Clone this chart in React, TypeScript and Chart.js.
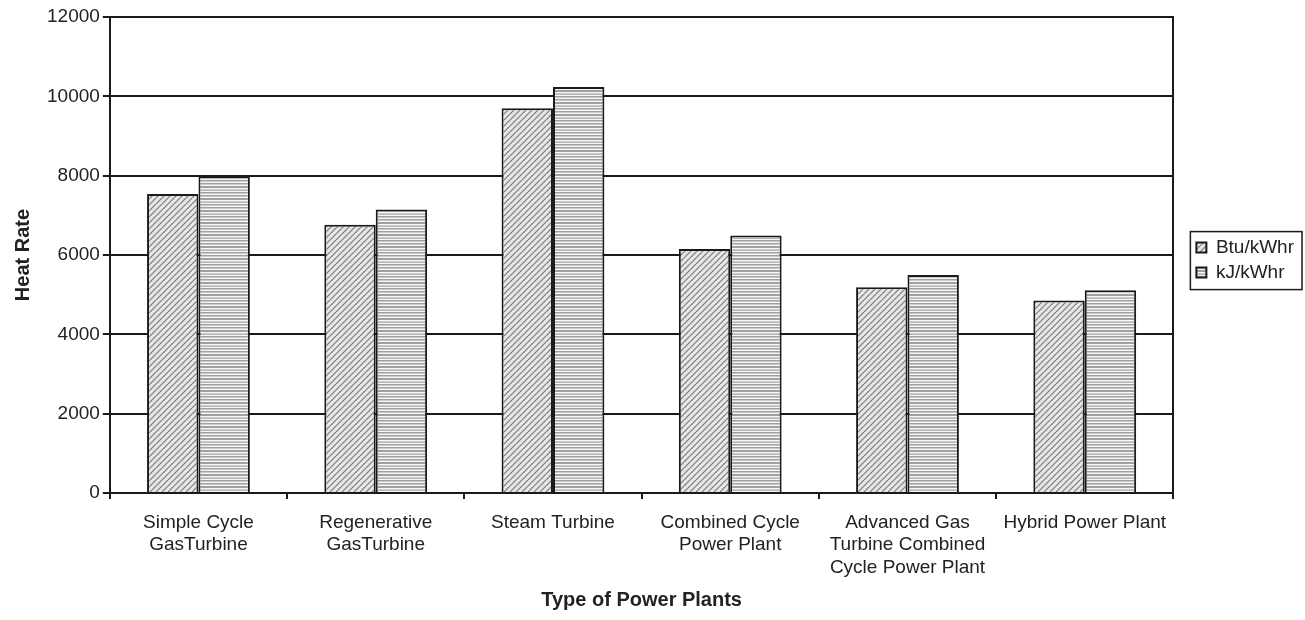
import React, { useEffect, useRef } from "react";
import { Chart, registerables } from "chart.js";

Chart.register(...registerables);

const categories: string[][] = [
  ["Simple Cycle", "GasTurbine"],
  ["Regenerative", "GasTurbine"],
  ["Steam Turbine"],
  ["Combined Cycle", "Power Plant"],
  ["Advanced Gas", "Turbine Combined", "Cycle Power Plant"],
  ["Hybrid Power Plant"],
];
const btuValues = [7540, 6760, 9700, 6150, 5185, 4850];
const kjValues = [7990, 7150, 10235, 6490, 5495, 5110];
const seriesNames = ["Btu/kWhr", "kJ/kWhr"];
const yTicksMax = 12000;
const yStep = 2000;

const FONT = "'Liberation Sans', Arial, Helvetica, sans-serif";

function makeDiagonal(ctx: CanvasRenderingContext2D): CanvasPattern | string {
  const c = document.createElement("canvas");
  c.width = 6;
  c.height = 6;
  const g = c.getContext("2d")!;
  g.fillStyle = "#e6e6e6";
  g.fillRect(0, 0, 6, 6);
  g.strokeStyle = "#7a7a7a";
  g.lineWidth = 1.2;
  g.beginPath();
  for (let k = -6; k <= 12; k += 6) {
    g.moveTo(k, 6);
    g.lineTo(k + 6, 0);
  }
  g.stroke();
  return ctx.createPattern(c, "repeat") || "#aaa";
}

function makeHorizontal(ctx: CanvasRenderingContext2D): CanvasPattern | string {
  const c = document.createElement("canvas");
  c.width = 8;
  c.height = 12;
  const g = c.getContext("2d")!;
  g.fillStyle = "#f6f6f6";
  g.fillRect(0, 0, 8, 12);
  g.fillStyle = "#a0a0a0";
  g.fillRect(0, 0, 8, 1.5);
  g.fillRect(0, 3, 8, 1.5);
  g.fillRect(0, 6, 8, 2);
  g.fillRect(0, 9.5, 8, 1.2);
  return ctx.createPattern(c, "repeat") || "#ccc";
}

export default function App() {
  const ref = useRef<HTMLCanvasElement | null>(null);
  useEffect(() => {
    document.body.style.margin = "0";
    const canvas = ref.current!;
    const ctx = canvas.getContext("2d")!;
    const diag = makeDiagonal(ctx);
    const horiz = makeHorizontal(ctx);

    const framePlugin = {
      id: "frame",
      afterDraw(chart: any) {
        const c = chart.ctx;
        const lg = chart.legend;
        const boxes = lg?.legendHitBoxes || [];
        if (boxes.length) {
          let t = Infinity, b = -Infinity;
          for (const h of boxes) {
            t = Math.min(t, h.top);
            b = Math.max(b, h.top + h.height);
          }
          c.save();
          c.strokeStyle = "#1a1a1a";
          c.lineWidth = 1.5;
          c.strokeRect(lg.left, t - 6.5, 1302 - lg.left, b - t + 14);
          c.restore();
        }
      },
    };

    const chart = new Chart(canvas, {
      type: "bar",
      data: {
        labels: categories,
        datasets: [
          {
            label: seriesNames[0],
            data: btuValues,
            backgroundColor: diag as any,
            borderColor: "#1a1a1a",
            borderWidth: 2,
          },
          {
            label: seriesNames[1],
            data: kjValues,
            backgroundColor: horiz as any,
            borderColor: "#1a1a1a",
            borderWidth: 2,
          },
        ],
      },
      options: {
        responsive: false,
        animation: false,
        layout: { padding: { top: 17, left: 11, right: 1, bottom: 8 } },
        datasets: { bar: { categoryPercentage: 0.58, barPercentage: 1 } },
        plugins: {
          tooltip: { enabled: false },
          legend: {
            position: "right",
            fullSize: false,
            title: { display: true, text: " ", padding: { top: 4, bottom: 5 }, font: { size: 1 } },
            labels: {
              boxWidth: 10,
              boxHeight: 10,
              padding: 6,
              color: "#222",
              font: { family: FONT, size: 19 },
            },
          },
        },
        scales: {
          x: {
            grid: {
              offset: true,
              drawOnChartArea: false,
              drawTicks: true,
              tickLength: 6,
              color: "#1a1a1a",
              lineWidth: 2,
            },
            border: { color: "#1a1a1a", width: 2 },
            ticks: {
              color: "#222",
              maxRotation: 0,
              autoSkip: false,
              padding: 12,
              font: { family: FONT, size: 19, lineHeight: 1.2 },
            },
            title: {
              display: true,
              text: "Type of Power Plants",
              color: "#222",
              padding: { top: 0, bottom: 0 },
              font: { family: FONT, size: 20, weight: "bold" },
            },
            afterFit: (scale: any) => {
              scale.height = 119;
            },
          },
          y: {
            min: 0,
            max: yTicksMax,
            ticks: {
              stepSize: yStep,
              color: "#222",
              padding: 3,
              font: { family: FONT, size: 19 },
              callback: (v: any) => String(v),
            },
            grid: {
              color: "#1a1a1a",
              lineWidth: 2,
              tickLength: 7,
            },
            border: { color: "#1a1a1a", width: 2 },
            title: {
              display: true,
              text: "Heat Rate",
              color: "#222",
              padding: { top: 0, bottom: 9 },
              font: { family: FONT, size: 20, weight: "bold" },
            },
          },
          yRight: {
            type: "linear",
            position: "right",
            display: true,
            grid: { display: false, drawOnChartArea: false },
            ticks: { display: false },
            border: { display: true, color: "#1a1a1a", width: 2 },
            afterFit: (scale: any) => {
              scale.width = 17;
            },
          },
        },
      },
      plugins: [framePlugin],
    });
    return () => chart.destroy();
  }, []);
  return <canvas ref={ref} width={1305} height={620} style={{ display: "block" }} />;
}
